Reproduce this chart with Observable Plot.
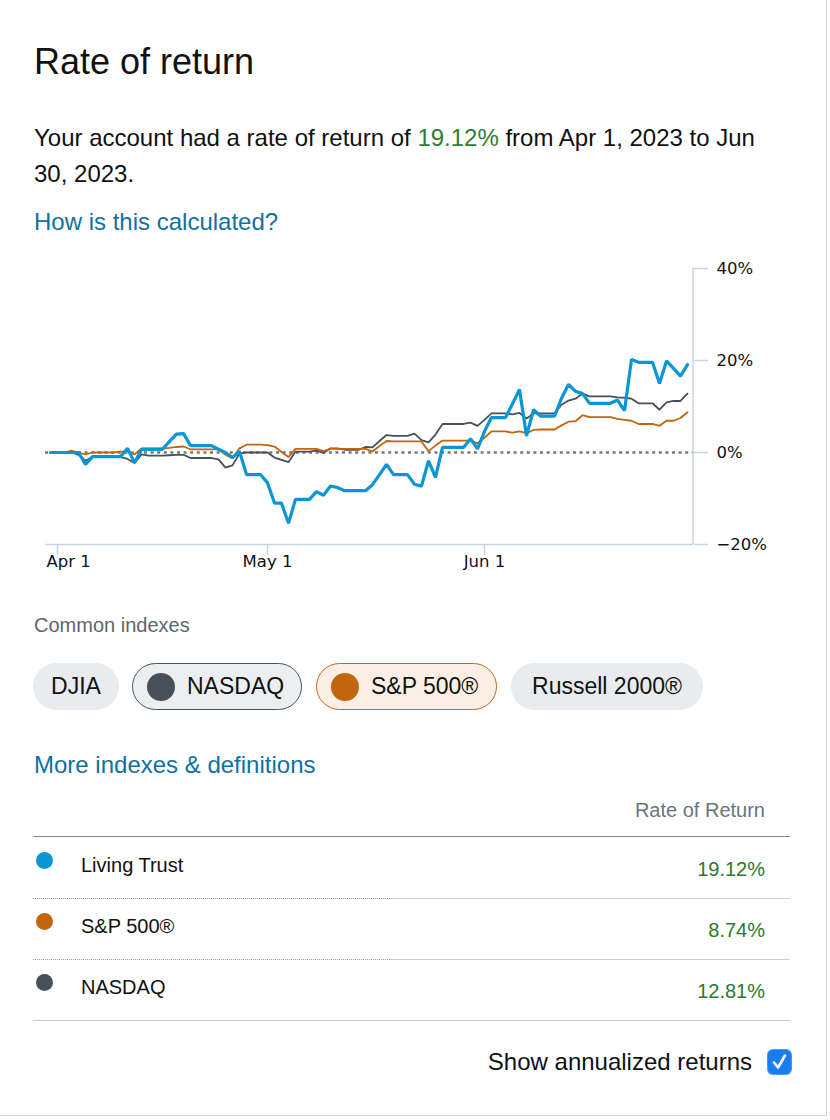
<!DOCTYPE html>
<html>
<head>
<meta charset="utf-8">
<script src="https://cdn.jsdelivr.net/npm/d3@7"></script>
<script src="https://cdn.jsdelivr.net/npm/@observablehq/plot@0.6"></script>
<style>
  html, body { margin: 0; padding: 0; background: #fff; }
  body { width: 830px; height: 1120px; position: relative; overflow: hidden; font-family: "Liberation Sans", Arial, Helvetica, sans-serif; color: #111; }
  .abs { position: absolute; white-space: nowrap; }
  .card { position: absolute; left: 0; top: 0; width: 826px; height: 1115px; border-right: 1px solid #d4d4d4; border-bottom: 1px solid #d4d4d4; }
  .title { left: 34px; top: 44px; font-size: 36px; line-height: 36px; color: #111; }
  .para { left: 34px; top: 120px; font-size: 24px; line-height: 36px; color: #111; }
  .green { color: #2e7d32; }
  .link { left: 34px; font-size: 24px; line-height: 36px; color: #11709f; }
  .sub { left: 34px; top: 613px; font-size: 20px; line-height: 24px; color: #5c6670; }
  .pill { position: absolute; top: 663px; height: 47px; box-sizing: border-box; border-radius: 24px; background: #e9ebee; display: flex; align-items: center; justify-content: center; font-size: 23px; color: #111; white-space: nowrap; }
  .pill.withdot { justify-content: flex-start; padding-left: 14px; }
  .pill .dot { width: 28px; height: 28px; border-radius: 50%; margin-right: 12px; flex: none; }
  .hdr { right: 65px; top: 798px; font-size: 20px; line-height: 24px; color: #6b747e; }
  .line { position: absolute; }
  .rowdot { position: absolute; width: 17px; height: 17px; border-radius: 50%; left: 36px; }
  .rowname { position: absolute; left: 81px; font-size: 20px; line-height: 24px; color: #111; white-space: nowrap; }
  .rowval { position: absolute; right: 65px; font-size: 20px; line-height: 24px; color: #2a7a2d; white-space: nowrap; }
  #chart { position: absolute; left: 0; top: 250px; }
</style>
</head>
<body>
<div class="card"></div>
<div class="abs title">Rate of return</div>
<div class="abs para">Your account had a rate of return of <span class="green">19.12%</span> from Apr 1, 2023 to Jun<br>30, 2023.</div>
<div class="abs link" style="top:204px">How is this calculated?</div>
<div id="chart"></div>
<div class="abs sub">Common indexes</div>
<div id="pills"></div>
<div class="abs link" style="top:747px">More indexes &amp; definitions</div>
<div class="abs hdr">Rate of Return</div>
<div id="table"></div>
<div class="abs" style="right:78px; top:1047px; font-size:24px; line-height:30px; color:#111;">Show annualized returns</div>
<div class="abs" style="left:768px; top:1050px; width:23px; height:24px; border-radius:5px; background:#1a7cf0; box-shadow:0 0 0 1px #4a97f5;">
  <svg width="23" height="24" viewBox="0 0 23 24"><path d="M6 12.5 L10 17.5 L17 5.5" fill="none" stroke="#fff" stroke-width="2.6" stroke-linecap="round" stroke-linejoin="round"/></svg>
</div>

<script>
// ---------- data ----------
const startDate = "2023-03-31";
const endDate = "2023-06-30";

const seriesNames = ["Living Trust", "S&P 500®", "NASDAQ"];
const seriesColors = ["#0a96d4", "#c1650f", "#47515b"];

// Daily cumulative return (%) from Mar 31 through Jun 30, 2023
const livingTrust = [
  0, 0, 0, 0, 0, -2.6, -0.9, -0.9, -0.9, -0.9,
  -0.9, 0.9, -2.2, 0.7, 0.7, 0.7, 0.7, 2.4, 4.0, 4.1,
  1.5, 1.5, 1.5, 1.5, 0.7, 0.0, -1.1, 0.2, -4.8, -4.8,
  -4.8, -6.6, -11.0, -11.0, -15.4, -10.2, -10.2, -10.2, -8.5, -9.3,
  -7.3, -7.6, -8.3, -8.3, -8.3, -8.3, -7.0, -4.8, -2.6, -4.8,
  -4.8, -4.8, -6.9, -7.3, -1.8, -5.4, 1.1, 1.1, 1.1, 1.1,
  3.0, 0.8, 4.6, 7.6, 7.6, 7.6, 10.6, 13.7, 3.6, 9.3,
  7.9, 7.9, 7.9, 11.8, 14.8, 13.3, 12.8, 10.7, 10.7, 10.7,
  10.7, 11.4, 9.1, 20.2, 19.6, 19.6, 19.6, 15.0, 19.9, 18.3,
  16.6, 19.12
];
const sp500 = [
  0, 0, 0, 0.4, 0.0, -0.4, 0.0, 0.0, 0.0, 0.0,
  0.2, 0.2, -0.4, 0.9, 0.9, 0.9, 0.9, 1.0, 1.2, 1.3,
  0.7, 0.7, 0.7, 0.7, 0.7, -0.5, -1.3, 0.9, 1.7, 1.7,
  1.7, 1.6, 1.3, 0.1, -1.0, 0.8, 0.8, 0.8, 0.8, 0.3,
  0.8, 0.8, 0.8, 0.8, 0.8, 0.8, 0.2, 1.4, 2.5, 2.4,
  2.4, 2.4, 2.4, 2.4, 0.3, 1.5, 2.6, 2.6, 2.6, 2.6,
  2.6, 2.0, 3.2, 4.6, 4.6, 4.6, 4.3, 4.6, 4.2, 4.9,
  5.0, 5.0, 5.0, 5.9, 6.7, 6.8, 8.1, 7.7, 7.7, 7.7,
  7.7, 7.3, 7.1, 6.9, 6.2, 6.2, 6.2, 5.8, 6.9, 6.9,
  7.5, 8.74
];
const nasdaq = [
  0, 0, 0, 0, -0.5, -1.8, -1.0, -1.0, -1.0, -1.0,
  -1.0, -1.4, -2.3, -0.4, -0.7, -0.7, -0.7, -0.6, -0.5, -0.5,
  -1.2, -1.2, -1.2, -1.2, -1.5, -3.3, -2.8, -0.2, 0.0, 0.0,
  0.0, 0.0, -1.1, -1.6, -2.1, 0.2, 0.2, 0.2, 0.4, -0.1,
  0.9, 0.9, 0.6, 0.6, 0.6, 1.2, 1.1, 2.5, 3.8, 3.6,
  3.6, 3.6, 4.1, 2.7, 2.2, 3.9, 6.2, 6.2, 6.2, 6.2,
  6.5, 5.8, 7.1, 8.5, 8.5, 8.5, 8.3, 8.6, 7.4, 8.5,
  8.5, 8.5, 8.5, 10.4, 11.3, 11.7, 12.8, 12.2, 12.2, 12.2,
  12.2, 12.0, 11.9, 11.7, 10.7, 10.7, 10.7, 9.3, 10.9, 11.2,
  11.2, 12.81
];
const finalReturns = ["19.12%", "8.74%", "12.81%"];

const xTicks = ["2023-04-01", "2023-05-01", "2023-06-01"];
const xTickLabels = ["Apr 1", "May 1", "Jun 1"];
const yTicks = [-20, 0, 20, 40];
const yTickLabels = ["\u221220%", "0%", "20%", "40%"];

const indexPills = ["DJIA", "NASDAQ", "S&P 500®", "Russell 2000®"];

// ---------- chart ----------
const dates = d3.utcDay.range(new Date(startDate), d3.utcDay.offset(new Date(endDate), 1));
const seriesValues = [livingTrust, sp500, nasdaq];
const rows = seriesNames.map((name, s) => seriesValues[s].map((v, i) => ({date: dates[i], value: v, name})));
const tickDates = xTicks.map(d => new Date(d));
const axisColor = "#c8d3e6";

const rightAxisLine = (index, scales, values, dimensions) => {
  const {width, height, marginRight, marginTop, marginBottom} = dimensions;
  const x = width - marginRight;
  return d3.create("svg:line")
    .attr("x1", x).attr("x2", x)
    .attr("y1", marginTop).attr("y2", height - marginBottom)
    .attr("stroke", axisColor).attr("stroke-width", 1.5).node();
};

const chart = Plot.plot({
  width: 830,
  height: 340,
  marginTop: 18,
  marginBottom: 46,
  marginLeft: 45,
  marginRight: 137,
  style: {fontFamily: "DejaVu Sans", fontSize: "16.5px", color: "#111", background: "transparent", overflow: "visible"},
  x: {type: "utc", domain: [new Date(startDate), new Date(endDate)], range: [50, 687]},
  y: {domain: [-20, 40]},
  marks: [
    Plot.ruleY([0], {stroke: "#777", strokeWidth: 2.5, strokeDasharray: "3,3.6"}),
    Plot.ruleY([-20], {stroke: axisColor, strokeWidth: 1.5}),
    rightAxisLine,
    Plot.axisY({anchor: "right", ticks: yTicks, tickSize: 14, tickPadding: 9, stroke: axisColor, strokeWidth: 1.5, fill: "#111", label: null,
      fontSize: 16.5, tickFormat: d => yTickLabels[yTicks.indexOf(d)]}),
    Plot.axisX({ticks: tickDates, tickSize: 11, stroke: axisColor, strokeWidth: 1.5, label: null, tickFormat: () => ""}),
    Plot.text(tickDates.slice(0, 1), {x: d => d, text: (d, i) => xTickLabels[i], frameAnchor: "bottom", dy: 22, dx: -11, textAnchor: "start", fill: "#111", fontSize: 16.5}),
    Plot.text(tickDates.slice(1), {x: d => d, text: (d, i) => xTickLabels[i + 1], frameAnchor: "bottom", dy: 22, fill: "#111", fontSize: 16.5}),
    Plot.line(rows[2], {x: "date", y: "value", stroke: seriesColors[2], strokeWidth: 1.8, strokeLinejoin: "miter"}),
    Plot.line(rows[1], {x: "date", y: "value", stroke: seriesColors[1], strokeWidth: 1.8, strokeLinejoin: "miter"}),
    Plot.line(rows[0], {x: "date", y: "value", stroke: seriesColors[0], strokeWidth: 3.2, strokeLinejoin: "miter"})
  ]
});
document.getElementById("chart").appendChild(chart);

// ---------- pills ----------
const pillBox = [[33, 86], [132, 170], [316, 181], [511, 192]];
const pillStyle = [
  {bg: "#e9ebee", border: "none", dot: null},
  {bg: "#eceef0", border: "1px solid #4a525a", dot: seriesColors[2]},
  {bg: "#fbefe5", border: "1px solid #c8651b", dot: seriesColors[1]},
  {bg: "#e9ebee", border: "none", dot: null}
];
const pills = document.getElementById("pills");
indexPills.forEach((label, i) => {
  const p = document.createElement("div");
  p.className = "pill" + (pillStyle[i].dot ? " withdot" : "");
  p.style.left = pillBox[i][0] + "px";
  p.style.width = pillBox[i][1] + "px";
  p.style.background = pillStyle[i].bg;
  p.style.border = pillStyle[i].border;
  if (pillStyle[i].dot) {
    const d = document.createElement("span");
    d.className = "dot";
    d.style.background = pillStyle[i].dot;
    p.appendChild(d);
  }
  const t = document.createElement("span");
  t.textContent = label;
  p.appendChild(t);
  pills.appendChild(p);
});

// ---------- table ----------
const table = document.getElementById("table");
function addLine(top, left, width, style) {
  const l = document.createElement("div");
  l.className = "line";
  l.style.top = top + "px"; l.style.left = left + "px"; l.style.width = width + "px";
  l.style.borderTop = style;
  table.appendChild(l);
}
addLine(836, 33, 757, "1.5px solid #7f8891");
const rowTop0 = 837, rowH = 61;
seriesNames.forEach((name, i) => {
  const top = rowTop0 + rowH * i;
  const dot = document.createElement("div");
  dot.className = "rowdot";
  dot.style.top = (top + 15) + "px";
  dot.style.background = seriesColors[i];
  table.appendChild(dot);
  const n = document.createElement("div");
  n.className = "rowname";
  n.style.top = (top + 16) + "px";
  n.textContent = name;
  table.appendChild(n);
  const v = document.createElement("div");
  v.className = "rowval";
  v.style.top = (top + 20) + "px";
  v.textContent = finalReturns[i];
  table.appendChild(v);
  const bottom = top + rowH;
  if (i < seriesNames.length - 1) {
    addLine(bottom, 33, 357, "1px dotted #9aa1a8");
    addLine(bottom, 390, 400, "1px solid #cdd1d5");
  } else {
    addLine(bottom, 33, 757, "1px solid #c5cacf");
  }
});
</script>
</body>
</html>
